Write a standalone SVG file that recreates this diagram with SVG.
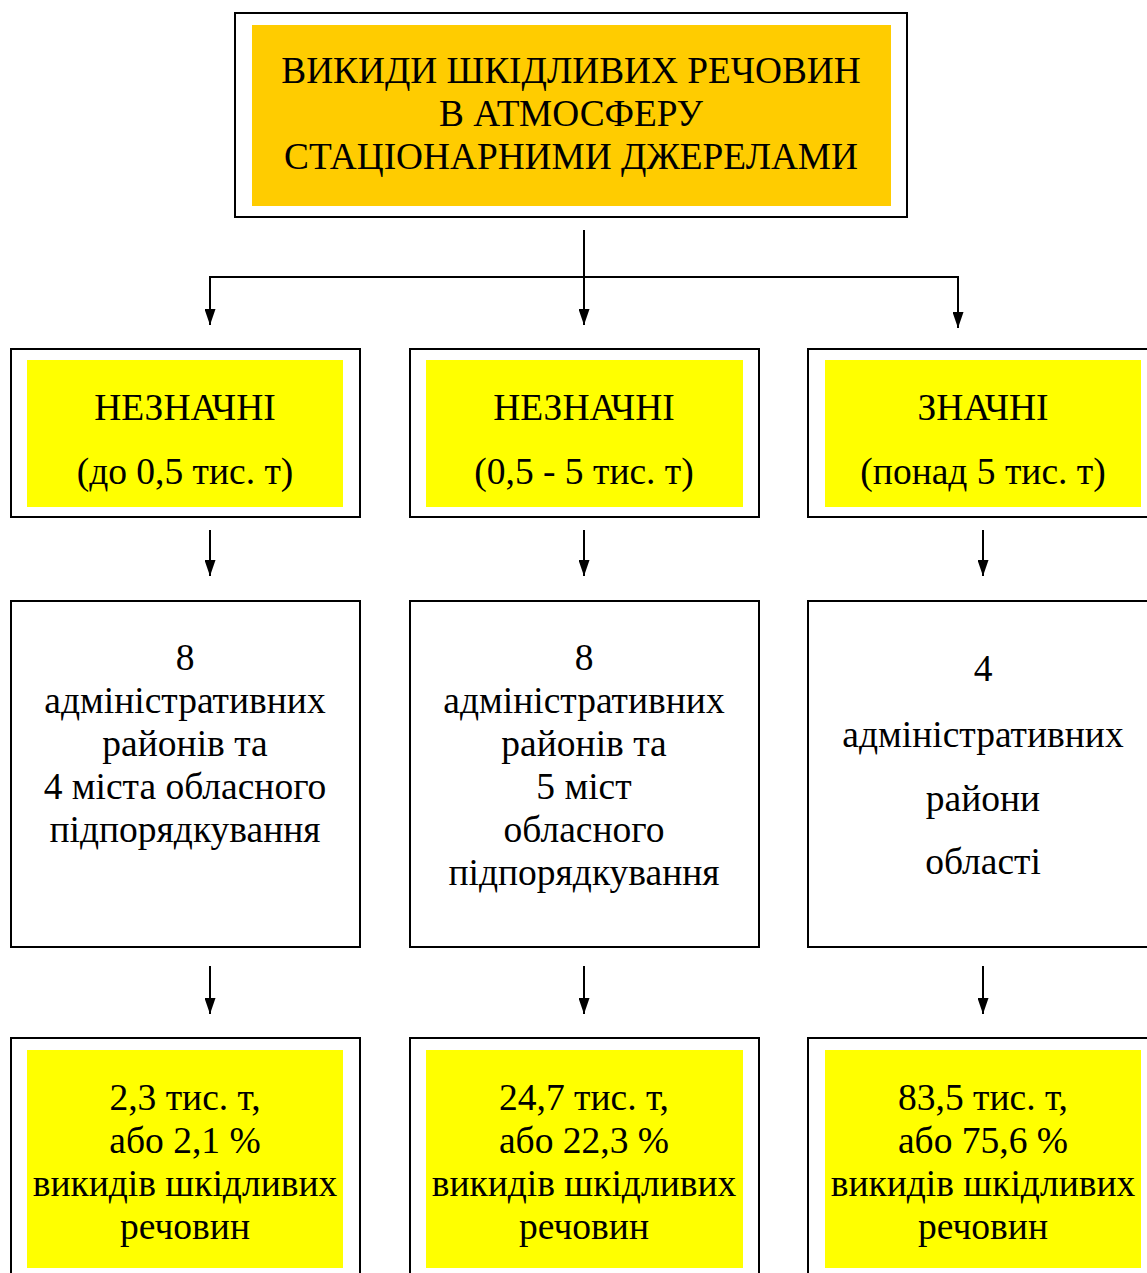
<svg xmlns="http://www.w3.org/2000/svg" width="1147" height="1273" viewBox="0 0 1147 1273">
<defs>
<style>
.outer{fill:#fff;stroke:#000;stroke-width:2}
.orange{fill:#FFCC00}
.yellow{fill:#FFFF00}
.t{font-size:37.5px;fill:#000;text-anchor:middle}
.title{font-size:37.3px}
.conn{stroke:#000;stroke-width:2;fill:none}
</style>
<marker id="arr" markerWidth="16" markerHeight="11" refX="16" refY="5.5" orient="auto" markerUnits="userSpaceOnUse" viewBox="0 0 16 11">
<path d="M0,0 L16,5.5 L0,11 Z" fill="#000"/>
</marker>
</defs>
<rect width="1147" height="1273" fill="#fff"/>

<g id="connectors">
<line class="conn" x1="584" y1="230" x2="584" y2="277"/>
<line class="conn" x1="209" y1="277" x2="959" y2="277"/>
<line class="conn" x1="210" y1="277" x2="210" y2="325" marker-end="url(#arr)"/>
<line class="conn" x1="584" y1="277" x2="584" y2="325" marker-end="url(#arr)"/>
<line class="conn" x1="958" y1="277" x2="958" y2="328" marker-end="url(#arr)"/>
<line class="conn" x1="210" y1="530" x2="210" y2="576" marker-end="url(#arr)"/>
<line class="conn" x1="584" y1="530" x2="584" y2="576" marker-end="url(#arr)"/>
<line class="conn" x1="983" y1="530" x2="983" y2="576" marker-end="url(#arr)"/>
<line class="conn" x1="210" y1="966" x2="210" y2="1014" marker-end="url(#arr)"/>
<line class="conn" x1="584" y1="966" x2="584" y2="1014" marker-end="url(#arr)"/>
<line class="conn" x1="983" y1="966" x2="983" y2="1014" marker-end="url(#arr)"/>
</g>

<g class="t" font-family="Liberation Serif, Tinos, Times New Roman, DejaVu Serif, serif">
<g id="top">
<rect class="outer" x="235" y="13" width="672" height="204"/>
<rect class="orange" x="252" y="25" width="639" height="181"/>
<text class="title" x="571" y="83">ВИКИДИ ШКІДЛИВИХ РЕЧОВИН</text>
<text class="title" x="571" y="126">В АТМОСФЕРУ</text>
<text class="title" x="571" y="169">СТАЦІОНАРНИМИ ДЖЕРЕЛАМИ</text>
</g>

<g id="cat1">
<rect class="outer" x="11" y="349" width="349" height="168"/>
<rect class="yellow" x="27" y="360" width="316" height="147"/>
<text x="185" y="420">НЕЗНАЧНІ</text>
<text x="185" y="484">(до 0,5 тис. т)</text>
</g>
<g id="cat2">
<rect class="outer" x="410" y="349" width="349" height="168"/>
<rect class="yellow" x="426" y="360" width="317" height="147"/>
<text x="584" y="420">НЕЗНАЧНІ</text>
<text x="584" y="484">(0,5 - 5 тис. т)</text>
</g>
<g id="cat3">
<rect class="outer" x="808" y="349" width="350" height="168"/>
<rect class="yellow" x="825" y="360" width="316" height="147"/>
<text x="983" y="420">ЗНАЧНІ</text>
<text x="983" y="484">(понад 5 тис. т)</text>
</g>

<g id="areas1">
<rect class="outer" x="11" y="601" width="349" height="346"/>
<text x="185" y="670">8</text>
<text x="185" y="713">адміністративних</text>
<text x="185" y="756">районів та</text>
<text x="185" y="799">4 міста обласного</text>
<text x="185" y="842">підпорядкування</text>
</g>
<g id="areas2">
<rect class="outer" x="410" y="601" width="349" height="346"/>
<text x="584" y="670">8</text>
<text x="584" y="713">адміністративних</text>
<text x="584" y="756">районів та</text>
<text x="584" y="799">5 міст</text>
<text x="584" y="842">обласного</text>
<text x="584" y="885">підпорядкування</text>
</g>
<g id="areas3">
<rect class="outer" x="808" y="601" width="350" height="346"/>
<text x="983" y="681">4</text>
<text x="983" y="747">адміністративних</text>
<text x="983" y="811">райони</text>
<text x="983" y="874">області</text>
</g>

<g id="res1">
<rect class="outer" x="11" y="1038" width="349" height="250"/>
<rect class="yellow" x="27" y="1050" width="316" height="218"/>
<text x="185" y="1110">2,3 тис. т,</text>
<text x="185" y="1153">або 2,1 %</text>
<text x="185" y="1196">викидів шкідливих</text>
<text x="185" y="1239">речовин</text>
</g>
<g id="res2">
<rect class="outer" x="410" y="1038" width="349" height="250"/>
<rect class="yellow" x="426" y="1050" width="317" height="218"/>
<text x="584" y="1110">24,7 тис. т,</text>
<text x="584" y="1153">або 22,3 %</text>
<text x="584" y="1196">викидів шкідливих</text>
<text x="584" y="1239">речовин</text>
</g>
<g id="res3">
<rect class="outer" x="808" y="1038" width="350" height="250"/>
<rect class="yellow" x="825" y="1050" width="316" height="218"/>
<text x="983" y="1110">83,5 тис. т,</text>
<text x="983" y="1153">або 75,6 %</text>
<text x="983" y="1196">викидів шкідливих</text>
<text x="983" y="1239">речовин</text>
</g>
</g>
</svg>
